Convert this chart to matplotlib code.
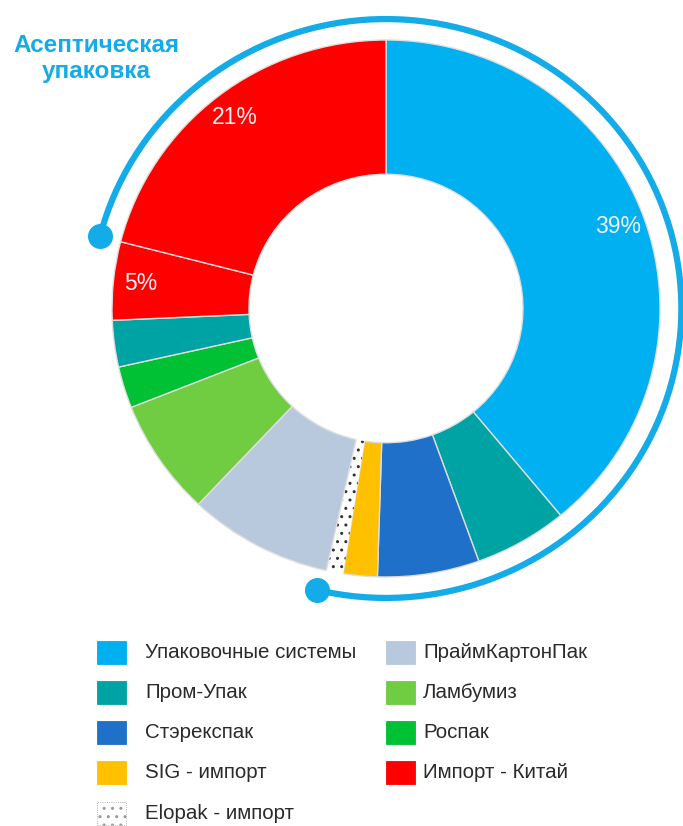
import matplotlib
matplotlib.use("Agg")
import matplotlib.pyplot as plt
from matplotlib.patches import Arc, Rectangle
import numpy as np

plt.rcParams['font.family'] = ['Liberation Sans', 'DejaVu Sans']

# ---- data ----
slice_names = ["Упаковочные системы", "Пром-Упак", "Стэрекспак", "SIG - импорт",
               "Elopak - импорт", "ПраймКартонПак", "Ламбумиз", "Роспак",
               "Пром-Упак", "Импорт - Китай", "Импорт - Китай"]
slice_values = [39, 5.5, 6, 2, 1, 8.5, 7, 2.5, 2.8, 4.7, 21]
slice_colors = ["#00B0F0", "#00A3A3", "#1F70C8", "#FFC000", "#FFFFFF", "#B8C9DD",
                "#70CD42", "#00C133", "#00A3A3", "#FF0000", "#FF0000"]
slice_labels = ["39%", "", "", "", "", "", "", "", "", "5%", "21%"]

legend_labels = ["Упаковочные системы", "Пром-Упак", "Стэрекспак", "SIG - импорт",
                 "Elopak - импорт", "ПраймКартонПак", "Ламбумиз", "Роспак",
                 "Импорт - Китай"]
legend_colors = ["#00B0F0", "#00A3A3", "#1F70C8", "#FFC000", "#FFFFFF",
                 "#B8C9DD", "#70CD42", "#00C133", "#FF0000"]

title_text = "Асептическая\nупаковка"
accent = "#14ACE8"

W, H = 683, 826
fig = plt.figure(figsize=(W / 100, H / 100), dpi=100)

# pie axes: center at (386, 308.5) px, radius 1 == 274 px (x) / 268.5 px (y)
cx, cy, RX, RY = 386, 308.5, 274, 268.5
L = 1.2
hx, hy = L * RX, L * RY
ax = fig.add_axes([(cx - hx) / W, (H - cy - hy) / H, 2 * hx / W, 2 * hy / H])

wedges, _ = ax.pie(slice_values, colors=slice_colors, startangle=90, counterclock=False,
                   radius=1.0, wedgeprops=dict(width=0.5, edgecolor="#dedede", linewidth=1.0))
# Elopak dotted
ew = wedges[4]
ew.set_edgecolor("#333333")
ew.set_linewidth(0)
ew.set_hatch("..")

# percentage labels
total = sum(slice_values)
start = 90.0
for v, lab in zip(slice_values, slice_labels):
    ang = start - v / total * 360 / 2
    start -= v / total * 360
    if lab:
        r = 0.9
        ax.text(r * np.cos(np.radians(ang)), r * np.sin(np.radians(ang)), lab,
                ha="center", va="center", color="#F2F2F2", fontsize=16.5)

# outer arc
ar = 1.078
t1, t2 = -103.5, 165.5
ax.add_patch(Arc((0, 0), 2 * ar, 2 * ar, theta1=t1, theta2=t2,
                 color=accent, lw=4.5, zorder=5))
for th in (t1, t2):
    ax.plot(ar * np.cos(np.radians(th)), ar * np.sin(np.radians(th)), "o",
            ms=17, color=accent, zorder=6, clip_on=False)

ax.set_xlim(-L, L)
ax.set_ylim(-L, L)
ax.set_aspect("auto")
ax.axis("off")

# title
fig.text(96 / W, 1 - 58.5 / H, title_text, ha="center", va="center", color=accent,
         fontsize=17.5, fontweight="bold", linespacing=1.2)

# legend (manual, two columns)
for i, (lab, col) in enumerate(zip(legend_labels, legend_colors)):
    c, r = divmod(i, 5)
    px = [97, 386][c]
    tx = [145, 423][c]
    yc = 652 + 40.3 * r
    rect = Rectangle((px / W, 1 - (yc + 11.5) / H), 29 / W, 23 / H,
                     transform=fig.transFigure, facecolor=col, edgecolor=col, lw=0.6)
    if lab.startswith("Elopak"):
        rect.set_hatch("..")
        rect.set_edgecolor("#999999")
        rect.set_linestyle(":")
    fig.patches.append(rect)
    fig.text(tx / W, 1 - yc / H, lab, ha="left", va="center", fontsize=14.8, color="#2a2a2a")

fig.savefig("out.png", dpi=100)
